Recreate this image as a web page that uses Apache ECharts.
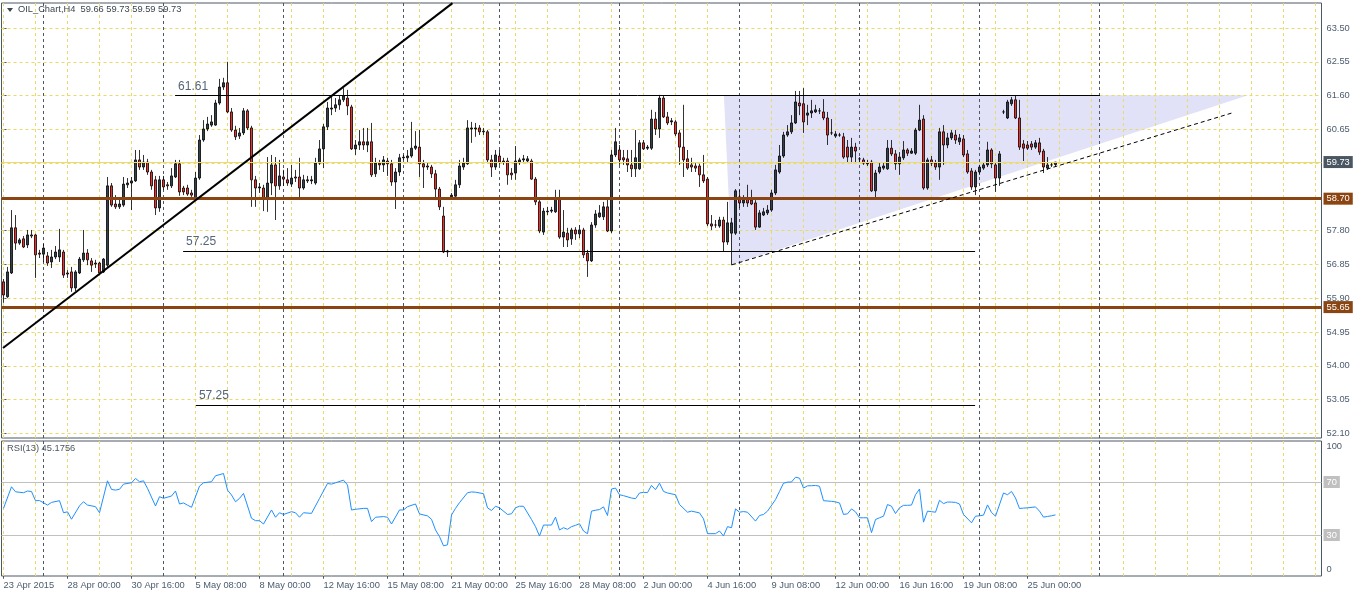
<!DOCTYPE html>
<html><head><meta charset="utf-8">
<script src="https://cdn.jsdelivr.net/npm/echarts@6/dist/echarts.min.js"></script>
<style>html,body{margin:0;padding:0;background:#fff}#c{width:1362px;height:594px}</style>
</head><body><div id="c"></div>
<script>
// ---------- DATA ----------
const symbolName = 'OIL_Chart,H4';
const opens = [56.36,55.94,56.61,57.88,57.45,57.57,57.40,57.68,57.68,57.17,
57.14,57.09,56.92,57.06,57.06,57.20,56.61,56.64,56.19,56.61,
56.98,57.17,56.95,56.89,56.89,56.64,56.83,59.06,58.55,58.47,
58.52,59.09,59.14,59.20,59.79,59.59,59.73,59.45,59.23,58.44,
59.23,59.09,59.06,59.31,59.68,59.00,59.00,58.86,58.72,59.28,
60.35,60.66,60.77,60.77,61.39,61.84,61.96,61.14,60.63,60.46,
60.55,61.17,60.69,59.23,59.00,59.00,58.72,59.14,59.65,59.06,
59.31,59.23,59.11,59.31,59.31,59.00,59.23,59.20,59.14,59.70,
60.10,60.72,61.22,61.25,61.34,61.48,61.53,61.28,60.10,60.21,
60.30,60.21,60.30,59.40,59.70,59.65,59.76,59.68,59.17,59.45,
59.85,59.85,59.90,60.12,60.15,59.68,59.62,59.59,59.40,58.97,
58.21,57.20,58.75,58.77,59.09,59.59,59.68,60.66,60.66,60.69,
60.58,60.58,59.79,59.59,59.90,59.76,59.76,59.42,59.42,59.73,
59.79,59.76,59.76,59.25,58.61,57.76,58.33,58.35,58.33,58.72,
57.62,57.73,57.57,57.82,57.71,57.82,57.17,56.95,57.96,58.19,
58.19,58.47,57.79,59.93,60.07,59.85,59.82,59.65,59.54,59.54,
60.27,60.12,60.12,60.94,60.66,61.53,61.00,60.86,60.86,60.55,
60.15,59.82,59.65,59.62,59.62,59.37,59.25,57.99,57.96,57.93,
58.10,57.48,57.73,57.73,58.75,58.58,58.72,58.66,58.58,57.90,
58.24,58.30,58.38,58.86,59.45,59.90,60.49,60.58,60.83,61.39,
61.37,61.05,61.11,61.14,61.17,61.14,60.97,60.55,60.46,60.49,
60.44,60.15,59.87,60.15,59.82,59.79,59.70,59.73,58.92,59.45,
59.56,59.54,60.12,59.96,59.68,59.85,60.07,59.98,59.98,60.63,
60.94,59.00,59.79,59.70,59.59,60.58,60.21,60.41,60.49,60.30,
60.38,59.96,59.48,59.03,59.45,59.56,59.65,60.07,59.65,59.28,
61.14,60.97,61.37,61.48,60.97,60.24,60.21,60.24,60.15,60.27,
60.04,59.56,59.65,59.66];
const closes = [55.99,56.64,57.88,57.45,57.54,57.34,57.68,57.65,57.12,57.14,
57.31,56.89,57.06,57.20,57.26,56.55,56.58,56.19,56.64,57.00,
57.17,56.98,56.83,56.86,56.61,57.00,59.06,58.52,58.47,58.55,
59.11,59.14,59.20,59.79,59.59,59.73,59.45,59.06,58.44,59.23,
59.03,59.06,59.34,59.68,58.89,58.89,58.83,58.80,59.28,60.35,
60.66,60.80,60.86,61.39,61.84,61.96,61.14,60.63,60.44,60.55,
61.17,60.69,59.23,59.00,59.03,58.72,59.14,59.65,59.06,59.34,
59.25,59.14,59.28,59.28,59.00,59.23,59.20,59.23,59.70,60.10,
60.72,61.25,61.25,61.34,61.48,61.59,61.31,60.10,60.21,60.30,
60.21,60.30,59.37,59.70,59.65,59.79,59.68,59.17,59.45,59.85,
59.87,59.90,60.12,60.18,59.68,59.59,59.59,59.40,58.97,58.47,
57.20,57.23,58.80,59.09,59.62,59.70,60.69,60.69,60.69,60.58,
60.60,59.79,59.59,59.93,59.73,59.73,59.37,59.37,59.76,59.79,
59.82,59.82,59.25,58.61,57.79,58.35,58.35,58.38,58.72,57.62,
57.76,57.54,57.82,57.71,57.82,57.12,56.95,57.96,58.27,58.30,
58.47,57.79,59.93,60.30,59.79,59.79,59.65,59.54,59.85,60.27,
60.10,60.15,60.94,60.66,61.53,61.00,60.83,60.89,60.52,60.15,
59.79,59.56,59.59,59.56,59.37,59.20,57.99,57.93,57.96,58.10,
57.48,58.02,58.02,58.92,58.58,58.66,58.58,58.55,57.90,58.30,
58.33,58.38,58.86,59.51,59.90,60.49,60.58,60.83,61.42,61.31,
60.86,61.11,61.17,61.20,61.17,60.97,60.49,60.55,60.52,60.49,
59.87,59.87,60.15,60.04,59.82,59.70,59.68,58.92,59.42,59.59,
59.62,60.12,59.96,59.68,59.87,60.07,59.98,60.04,60.63,60.91,
59.00,59.79,59.70,59.59,60.58,60.21,60.41,60.55,60.35,60.41,
59.93,59.45,59.03,59.45,59.59,59.65,60.07,59.68,59.28,59.96,
61.14,61.42,61.48,60.97,60.15,60.12,60.12,60.15,60.27,60.01,
59.59,59.65,59.65,59.73];
const lows = [55.77,55.91,56.58,57.26,57.40,57.31,57.31,57.59,56.47,57.03,
56.92,56.81,56.75,57.00,56.92,56.47,56.47,56.08,56.10,56.58,
56.92,56.83,56.64,56.75,56.55,56.61,56.78,58.47,58.41,58.41,
58.47,59.00,58.38,59.17,59.51,59.51,59.37,58.95,58.24,58.33,
58.95,58.95,59.00,59.28,58.78,58.80,58.78,58.75,58.66,59.23,
60.30,60.60,60.72,60.75,61.34,61.76,61.11,60.58,60.35,60.38,
60.49,60.63,58.47,58.47,58.86,58.35,58.33,58.80,58.10,58.95,
59.06,59.06,59.03,59.17,58.72,58.95,59.14,59.11,59.09,59.65,
59.56,60.63,61.05,61.14,61.20,61.42,61.05,60.07,59.93,60.07,
60.07,60.01,59.31,59.31,59.51,59.45,59.34,59.06,58.41,59.34,
59.79,59.70,59.85,60.07,59.31,59.00,59.51,59.28,58.66,58.38,
57.17,57.06,58.72,58.75,59.00,59.51,59.65,60.27,60.44,60.49,
60.49,59.70,59.31,59.51,59.65,59.65,59.09,59.23,59.23,59.65,
59.70,59.70,59.23,58.52,57.73,57.68,58.24,58.30,58.30,57.57,
57.34,57.34,57.40,57.54,57.59,57.03,56.50,56.92,57.88,58.16,
58.10,57.76,57.73,59.87,59.65,59.65,59.45,59.31,59.31,59.51,
60.07,60.07,60.07,60.49,60.41,60.97,60.77,60.77,60.46,59.65,
59.31,59.51,59.45,59.45,59.03,59.14,57.93,57.82,57.88,57.88,
57.20,57.40,56.83,57.68,58.44,58.47,58.47,58.52,57.82,57.88,
58.21,58.24,58.33,58.80,59.40,59.85,60.44,60.52,60.80,61.05,
60.55,60.77,60.97,61.11,61.08,60.91,60.21,60.49,60.41,60.44,
59.82,59.73,59.70,59.73,59.73,59.65,59.62,58.89,58.72,59.40,
59.51,59.51,59.90,59.51,59.37,59.79,59.90,59.96,59.93,60.60,
58.95,58.95,59.62,59.51,59.23,59.65,60.12,60.35,60.24,60.21,
59.87,59.40,58.95,58.80,59.37,59.51,59.59,59.56,58.89,59.06,
61.08,60.94,61.31,60.94,60.07,59.76,60.07,60.07,60.10,59.93,
59.42,59.51,59.59,59.59];
const highs = [56.44,56.78,58.38,58.24,57.59,57.65,57.82,57.82,57.71,57.26,
57.43,57.20,57.26,57.37,57.85,57.26,56.69,56.78,56.69,57.06,
57.82,57.28,57.03,56.98,56.92,57.03,59.31,59.14,58.80,58.69,
59.31,59.28,59.31,60.07,60.07,59.93,59.82,59.51,59.34,59.34,
59.34,59.17,59.56,59.79,59.79,59.06,59.09,58.95,59.45,60.49,
60.91,61.00,61.05,61.48,62.07,62.10,62.55,61.25,60.75,60.69,
61.25,61.22,60.75,59.34,59.14,59.09,59.87,59.93,59.87,59.79,
59.51,59.56,59.65,59.51,59.85,59.37,59.34,59.34,59.85,60.35,
60.80,61.42,61.56,61.53,61.59,61.81,61.76,61.34,60.35,60.63,
60.69,60.69,60.83,59.85,59.79,59.90,59.85,59.79,59.56,59.96,
59.93,60.07,60.86,60.60,60.63,59.79,59.70,59.65,59.51,59.03,
58.47,57.26,58.86,59.23,59.79,59.85,60.91,60.86,60.83,60.77,
60.69,60.63,59.93,60.07,60.07,59.85,59.85,59.56,60.18,59.85,
59.93,59.90,59.82,59.31,58.66,58.44,58.47,58.47,58.95,58.95,
58.38,57.88,57.88,57.90,57.96,57.88,57.26,58.04,58.38,58.52,
58.61,58.69,60.07,60.69,60.21,60.07,60.07,60.07,60.63,60.35,
60.35,60.21,61.20,61.14,61.62,61.59,61.14,60.97,60.91,60.63,
61.34,60.07,59.85,59.70,59.68,59.93,59.31,58.24,58.10,58.19,
58.19,58.61,58.16,58.97,58.95,58.80,59.09,58.95,58.66,58.38,
58.44,58.52,58.95,59.65,60.21,60.58,60.77,61.05,61.73,61.73,
61.81,61.34,61.48,61.34,61.25,61.50,61.14,60.94,60.60,60.55,
60.55,60.35,60.41,60.27,59.87,59.85,59.79,59.79,59.51,59.70,
59.70,60.35,60.35,60.07,60.01,60.32,60.12,60.12,60.69,61.34,
61.05,59.85,59.90,59.79,60.69,60.77,60.55,60.63,60.63,60.52,
60.49,60.07,59.56,59.51,59.65,59.73,60.30,60.12,59.70,60.04,
61.20,61.48,61.56,61.59,61.48,60.35,60.32,60.32,60.35,60.41,
60.10,59.87,59.73,59.73];

// RSI(13) polyline vertices: [bar index, value]
const rsiPoints = [[0,50.1],[2,66.4],[3,62.6],[5,61.9],[6,63.2],[7,62.8],[8,55.9],[9,56.0],[11,52.6],[12,54.6],[14,55.9],[15,46.8],[16,47.5],[17,41.9],[19,52],[20,55.1],[21,52.6],[23,51.4],[24,46.8],[26,70.9],[27,64.4],[28,63.9],[29,64.5],[30,68.4],[32,69.4],[33,72.7],[34,70.2],[35,70.9],[36,65.2],[38,51.9],[39,58.9],[40,57.7],[42,59.4],[43,63.2],[44,53.4],[45,54.2],[46,52.5],[47,50.9],[49,66.9],[50,69.4],[52,70.2],[53,74.7],[55,76.4],[56,63.9],[57,60.2],[58,55.1],[59,57.6],[60,61.4],[62,42.6],[63,40.8],[64,40.8],[65,38.3],[67,48.9],[68,43.4],[69,46.8],[70,45.5],[72,47.6],[73,46.8],[74,43.4],[75,46.8],[77,46.3],[79,57.6],[81,68.9],[82,68.4],[83,69.4],[85,71.4],[86,67.7],[87,48.9],[88,49.4],[90,50.1],[91,50.1],[92,40.1],[93,43.4],[95,43.9],[96,43.4],[97,38.3],[99,48.9],[100,48.9],[101,51.4],[103,53.4],[104,45.9],[106,44.4],[107,41.9],[108,33.8],[109,28.8],[110,21.8],[111,22.6],[112,45.1],[113,50.1],[114,54.4],[116,61.9],[117,62.5],[118,62.3],[120,61.2],[121,50.5],[122,48.5],[123,51.7],[124,50.5],[126,45.5],[127,46],[128,50.5],[129,51.7],[130,51.7],[132,41.7],[133,36.3],[134,29.3],[135,37.5],[137,37.5],[138,43.5],[139,33.8],[140,35.5],[141,34.3],[142,36.3],[143,37.3],[144,38.5],[145,33.0],[146,31.0],[147,48.0],[148,48.7],[149,49.2],[150,51.2],[151,44.7],[152,64.7],[153,65.4],[154,60.4],[155,59.7],[157,57.9],[158,57.4],[159,61.7],[160,62.2],[161,62.0],[162,67.4],[163,64.2],[164,69.1],[165,62.9],[166,61.7],[168,60.4],[169,53.0],[171,47.2],[172,48.0],[174,46.7],[175,42.2],[176,31.0],[178,31.0],[179,33.0],[180,29.3],[181,36.3],[182,35.5],[183,49.7],[184,47.2],[185,47.7],[186,47.2],[188,40.5],[189,44.7],[190,45.5],[191,48.0],[193,56.7],[194,62.9],[195,69.1],[196,69.9],[197,70],[198,73.6],[199,72.9],[200,65.4],[201,67.1],[202,67.2],[203,67.4],[204,66.8],[205,55.9],[207,55.4],[208,55.0],[209,54.2],[210,45.5],[211,46],[212,49.7],[213,47.5],[214,43.0],[215,43.0],[216,43.0],[217,31.8],[218,41.7],[219,43.0],[220,44.2],[221,53.0],[222,51.7],[223,46.2],[224,50.5],[225,52.4],[226,52.4],[227,52.6],[228,60.4],[229,64.7],[230,39.7],[231,48.0],[232,47.6],[233,47.2],[234,56.2],[235,53.7],[236,54.9],[237,54.8],[238,54.6],[239,53.4],[240,45.5],[242,39.2],[243,44.2],[244,44.5],[245,45],[246,52.7],[247,47],[248,44.2],[250,61.7],[251,60.4],[252,62.9],[253,57.9],[254,50.0],[255,50.3],[256,50.5],[258,51.2],[259,48.0],[260,43.5],[261,44.0],[262,44.5],[263,45.1756]];

const xTickLabels = ['23 Apr 2015','28 Apr 00:00','30 Apr 16:00','5 May 08:00','8 May 00:00','12 May 16:00','15 May 08:00','21 May 00:00','25 May 16:00','28 May 08:00','2 Jun 00:00','4 Jun 16:00','9 Jun 08:00','12 Jun 00:00','16 Jun 16:00','19 Jun 08:00','25 Jun 00:00'];
const barsPerXLabel = 16;
const priceTicks = [52.10,53.05,54.00,54.95,55.90,56.85,57.80,58.75,59.70,60.65,61.60,62.55,63.50];
const rsiLevels = [70, 30];
const weekStartBars = [10,40,70,100,124,154,184,214,244,274];
const gridEveryBars = 8;
const totalSlots = 330;

// drawn objects (bar index / price)
const levelBrown = [58.70, 55.65];
const lastPrice = 59.73;
const trendUpIdx = [-0.125, 112.25], trendUpPrice = [54.50, 64.20];
const resistIdx = [42.9, 274.1], resistPrice = 61.61;
const support1Idx = [44.9, 242.9], support1Price = 57.23;
const support2Idx = [48.1, 242.9], support2Price = 52.90;
const dashTrendIdx = [182.1, 307.1], dashTrendPrice = [56.84, 61.11];
const triIdx = [180.1, 311.1, 182.1], triPrice = [61.61, 61.61, 56.84];

// ---------- CHART ----------
const FONT = '"Liberation Sans", Arial, sans-serif';
const FS = 9.3;
const AXC = '#4b5c6e';
const YEL = '#e8da6c';
const DARK = '#4c5863';
const cats = Array.from({length: totalSlots}, (_, i) => String(i));
const candleData = opens.map((o, i) => [o, closes[i], lows[i], highs[i]]);
const n = opens.length - 1;
const fmt = v => Number(v).toFixed(2);

const vertYellow = [];
for (let k = 0; k * gridEveryBars < totalSlots; k++) vertYellow.push(k * gridEveryBars - 0.125);

function vLines(list, color) {
  return list.map(v => ({xAxis: v, lineStyle: {color, type: [3, 3], width: 1}}));
}
function boxLabel(bg, f) {
  return {show: true, position: 'end', distance: 2, formatter: f, color: '#fff', backgroundColor: bg,
    padding: [2, 3, 1, 3], fontFamily: FONT, fontSize: FS};
}
function segLabel(text) {
  return {show: true, position: 'insideStartTop', formatter: text, color: '#55657a', fontFamily: FONT, fontSize: 12, distance: 3};
}
const labelValues = priceTicks.filter(t => Math.abs(t - lastPrice) > 0.12 && levelBrown.every(b => Math.abs(t - b) > 0.12));
const xLabInterval = i => i % barsPerXLabel === 0 && i / barsPerXLabel < xTickLabels.length;

const option = {
  animation: false,
  backgroundColor: '#fff',
  grid: [
    {left: 1.5, top: 3, width: 1320, height: 435, show: true, borderColor: DARK, borderWidth: 1, backgroundColor: '#fff'},
    {left: 1.5, top: 441, width: 1320, height: 135, show: true, borderColor: DARK, borderWidth: 1, backgroundColor: '#fff'}
  ],
  xAxis: [
    {type: 'category', gridIndex: 0, data: cats, boundaryGap: true, axisLine: {show: false}, axisTick: {show: false}, axisLabel: {show: false}, splitLine: {show: false}},
    {type: 'value', gridIndex: 0, min: -0.5, max: totalSlots - 0.5, show: false},
    {type: 'category', gridIndex: 1, data: cats, boundaryGap: true, axisLine: {show: false},
      axisTick: {show: true, alignWithLabel: true, interval: xLabInterval, length: 4, lineStyle: {color: DARK}},
      axisLabel: {interval: xLabInterval, formatter: (v, i) => xTickLabels[Math.round(i / barsPerXLabel)] || '', align: 'left',
        margin: 5, color: AXC, fontFamily: FONT, fontSize: FS},
      splitLine: {show: false}},
    {type: 'value', gridIndex: 1, min: -0.5, max: totalSlots - 0.5, show: false}
  ],
  yAxis: [
    {type: 'value', gridIndex: 0, position: 'right', min: 51.968, max: 64.204,
      axisLine: {show: false}, splitLine: {show: false},
      axisTick: {show: true, customValues: labelValues, length: 3, lineStyle: {color: DARK}},
      axisLabel: {customValues: labelValues, formatter: v => fmt(v), color: AXC, fontFamily: FONT, fontSize: FS, margin: 5}},
    {type: 'value', gridIndex: 1, position: 'right', min: -0.94, max: 100.94,
      axisLine: {show: false}, splitLine: {show: false}, axisTick: {show: false},
      axisLabel: {customValues: [0, 100], margin: 5, color: AXC, fontFamily: FONT, fontSize: FS,
        formatter: v => v >= 100 ? '{a|100}' : '{b|0}',
        rich: {a: {padding: [9, 0, 0, 0], color: AXC, fontFamily: FONT, fontSize: FS}, b: {padding: [0, 0, 11, 0], color: AXC, fontFamily: FONT, fontSize: FS}}}}
  ],
  series: [
    { // shaded triangle
      type: 'custom', xAxisIndex: 1, yAxisIndex: 0, z: 1, silent: true,
      data: [[triIdx[0], triPrice[0]]],
      renderItem: (params, api) => {
        const pts = triIdx.map((x, k) => api.coord([x, triPrice[k]]));
        return {type: 'polygon', shape: {points: pts}, style: {fill: '#e1e1f7'}};
      }
    },
    { // main grid lines
      type: 'line', xAxisIndex: 1, yAxisIndex: 0, data: [], z: 2, silent: true,
      markLine: {symbol: ['none', 'none'], silent: true, z: 2, label: {show: false},
        data: [
          ...priceTicks.map(v => ({yAxis: v, lineStyle: {color: YEL, type: [3, 3], width: 1}})),
          ...vLines(vertYellow, YEL),
          ...vLines(weekStartBars, DARK)
        ]}
    },
    { // RSI grid lines
      type: 'line', xAxisIndex: 3, yAxisIndex: 1, data: [], z: 2, silent: true,
      markLine: {symbol: ['none', 'none'], silent: true, z: 2, label: {show: false},
        data: [...vLines(vertYellow, YEL), ...vLines(weekStartBars, DARK)]}
    },
    {
      type: 'candlestick', xAxisIndex: 0, yAxisIndex: 0, data: candleData, barWidth: 3.2, z: 3,
      itemStyle: {color: '#34404a', color0: '#f0302a', borderColor: '#000', borderColor0: '#000', borderWidth: 0.8},
      markLine: {symbol: ['none', 'none'], silent: true, z: 4,
        data: [
          {yAxis: lastPrice, lineStyle: {color: '#e9dc72', width: 1, type: 'solid'}, label: boxLabel('#4a5662', p => fmt(p.value))},
          ...levelBrown.map(v => ({yAxis: v, lineStyle: {color: '#8b4513', width: 3, type: 'solid'}, label: boxLabel('#8b4513', p => fmt(p.value))}))
        ]}
    },
    { // hand-drawn objects
      type: 'line', xAxisIndex: 1, yAxisIndex: 0, data: [], z: 4, silent: true,
      markLine: {symbol: ['none', 'none'], silent: true, z: 4,
        data: [
          [{coord: [trendUpIdx[0], trendUpPrice[0]], lineStyle: {color: '#000', width: 2, type: 'solid'}, label: {show: false}}, {coord: [trendUpIdx[1], trendUpPrice[1]]}],
          [{coord: [resistIdx[0], resistPrice], lineStyle: {color: '#000', width: 1, type: 'solid'}, label: segLabel(fmt(resistPrice))}, {coord: [resistIdx[1], resistPrice]}],
          [{coord: [support1Idx[0], support1Price], lineStyle: {color: '#000', width: 1, type: 'solid'}, label: segLabel('57.25')}, {coord: [support1Idx[1], support1Price]}],
          [{coord: [support2Idx[0], support2Price], lineStyle: {color: '#000', width: 1, type: 'solid'}, label: segLabel('57.25')}, {coord: [support2Idx[1], support2Price]}],
          [{coord: [dashTrendIdx[0], dashTrendPrice[0]], lineStyle: {color: '#000', width: 1, type: [4, 3]}, label: {show: false}}, {coord: [dashTrendIdx[1], dashTrendPrice[1]]}]
        ]}
    },
    { // RSI
      type: 'line', xAxisIndex: 2, yAxisIndex: 1, data: rsiPoints, symbol: 'none', z: 3,
      lineStyle: {color: '#1e90ff', width: 1},
      markLine: {symbol: ['none', 'none'], silent: true, z: 2,
        data: rsiLevels.map(v => ({yAxis: v, lineStyle: {color: '#c0c0c0', width: 1, type: 'solid'}, label: boxLabel('#c0c0c0', p => String(p.value))}))}
    }
  ],
  graphic: [
    {type: 'polygon', shape: {points: [[7, 8], [13, 8], [10, 12]]}, style: {fill: '#3c4650'}, z: 10},
    {type: 'text', left: 18, top: 5, z: 10, style: {text: symbolName + '  ' + [opens[n], highs[n], lows[n], closes[n]].map(fmt).join(' '), fill: '#3c4650', font: FS + 'px ' + FONT}},
    {type: 'text', left: 7, top: 444, z: 10, style: {text: 'RSI(13) ' + rsiPoints[rsiPoints.length - 1][1].toFixed(4), fill: '#4a5560', font: FS + 'px ' + FONT}}
  ]
};
const chart = echarts.init(document.getElementById('c'), null, {renderer: 'canvas'});
chart.setOption(option);
</script>
</body></html>
